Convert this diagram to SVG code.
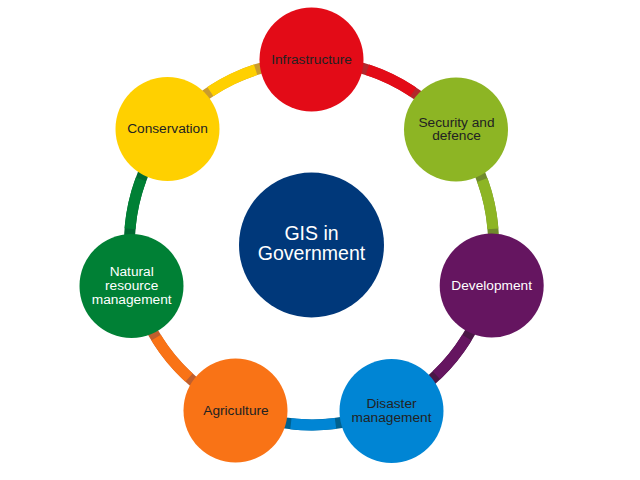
<svg xmlns="http://www.w3.org/2000/svg" width="640" height="480" viewBox="0 0 640 480">
<style>
.arc{fill:none;stroke-width:11}
.lbl{font-family:"Liberation Sans",Arial,sans-serif;font-size:13.7px;text-anchor:middle;fill:#222}
.wht{fill:#fff}
.big{font-family:"Liberation Sans",Arial,sans-serif;font-size:19.5px;text-anchor:middle;fill:#fff}
</style>
<rect width="640" height="480" fill="#fff"/>
<g id="connectors">
<path class="arc" stroke="#B3272C" d="M311.5,61 A182,182 0 0 1 454.6,130.6"/>
<path class="arc" stroke="#E30B17" d="M367.4,69.8 A182,182 0 0 1 413.1,92"/>
<path class="arc" stroke="#708A2C" d="M454.6,130.6 A182,182 0 0 1 488.5,285.3"/>
<path class="arc" stroke="#8DB524" d="M482.3,180 A182,182 0 0 1 492.9,228.8"/>
<path class="arc" stroke="#4A1746" d="M488.5,285.3 A182,182 0 0 1 389.7,407.3"/>
<path class="arc" stroke="#651560" d="M466.9,337.7 A182,182 0 0 1 436.4,375.3"/>
<path class="arc" stroke="#00618F" d="M389.7,407.3 A182,182 0 0 1 236.3,408.7"/>
<path class="arc" stroke="#0085D4" d="M335.5,423.4 A182,182 0 0 1 290.9,423.8"/>
<path class="arc" stroke="#BF5F2E" d="M236.3,408.7 A182,182 0 0 1 134.5,285.3"/>
<path class="arc" stroke="#F97316" d="M189,377.6 A182,182 0 0 1 156.1,337.6"/>
<path class="arc" stroke="#006A32" d="M134.5,285.3 A182,182 0 0 1 168.9,130"/>
<path class="arc" stroke="#008035" d="M130,228.8 A182,182 0 0 1 141,179.4"/>
<path class="arc" stroke="#C99C2E" d="M168.9,130 A182,182 0 0 1 311.5,61"/>
<path class="arc" stroke="#FFD000" d="M210.4,91.6 A182,182 0 0 1 255.6,69.8"/>
</g>
<g id="center">
<circle cx="311.5" cy="245" r="72.5" fill="#00387A"/>
<text class="big" x="311.5" y="240">GIS in</text>
<text class="big" x="311.5" y="259.5">Government</text>
</g>
<g id="infrastructure">
<circle cx="311.5" cy="59.5" r="52" fill="#E30B17"/>
<text class="lbl" x="311.5" y="64">Infrastructure</text>
</g>
<g id="security">
<circle cx="456" cy="129.5" r="52" fill="#8DB524"/>
<text class="lbl" x="456.5" y="126.5">Security and</text>
<text class="lbl" x="456.5" y="140">defence</text>
</g>
<g id="development">
<circle cx="491.7" cy="285.5" r="52" fill="#651560"/>
<text class="lbl wht" x="491.7" y="290">Development</text>
</g>
<g id="disaster">
<circle cx="391.5" cy="411" r="52" fill="#0085D4"/>
<text class="lbl" x="391.5" y="408.3">Disaster</text>
<text class="lbl" x="391.5" y="421.7">management</text>
</g>
<g id="agriculture">
<circle cx="235.5" cy="410.5" r="52" fill="#F97316"/>
<text class="lbl" x="236" y="415">Agriculture</text>
</g>
<g id="natural">
<circle cx="131.5" cy="286" r="52" fill="#008035"/>
<text class="lbl wht" x="131.7" y="276">Natural</text>
<text class="lbl wht" x="131.7" y="290">resource</text>
<text class="lbl wht" x="131.7" y="303.5">management</text>
</g>
<g id="conservation">
<circle cx="167.5" cy="129" r="52" fill="#FFD000"/>
<text class="lbl" x="167.5" y="133.3">Conservation</text>
</g>
</svg>
